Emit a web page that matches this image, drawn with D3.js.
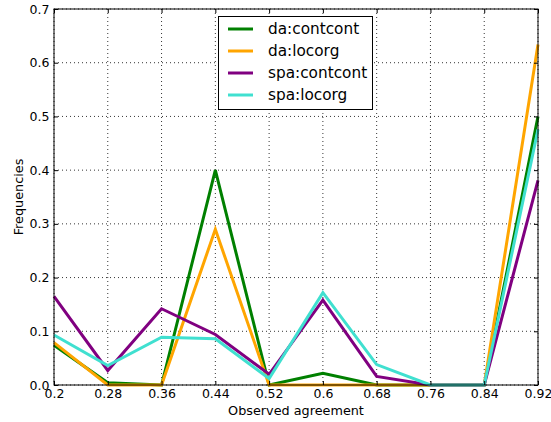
<!DOCTYPE html>
<html><head><meta charset="utf-8">
<script src="https://cdn.jsdelivr.net/npm/d3@7"></script>
<style>body{margin:0;background:#fff;}svg{display:block;font-family:"DejaVu Sans",sans-serif;}</style>
</head><body><svg id="c" width="551" height="422"></svg>
<script>
const xValues = [0.2, 0.28, 0.36, 0.44, 0.52, 0.6, 0.68, 0.76, 0.84, 0.92];
const xTickLabels = ["0.2","0.28","0.36","0.44","0.52","0.6","0.68","0.76","0.84","0.92"];
const yTicks = [0, 0.1, 0.2, 0.3, 0.4, 0.5, 0.6, 0.7];
const seriesNames = ["da:contcont", "da:locorg", "spa:contcont", "spa:locorg"];
const seriesColors = ["green", "orange", "purple", "turquoise"];
const daContcont = [0.074, 0.004, 0.0, 0.40, 0.0, 0.022, 0.0, 0.0, 0.0, 0.50];
const daLocorg = [0.079, 0.0, 0.0, 0.29, 0.0, 0.0, 0.0, 0.0, 0.0, 0.634];
const spaContcont = [0.165, 0.027, 0.142, 0.094, 0.02, 0.158, 0.016, 0.0, 0.0, 0.381];
const spaLocorg = [0.093, 0.036, 0.089, 0.086, 0.012, 0.172, 0.038, 0.0, 0.0, 0.476];
const seriesValues = [daContcont, daLocorg, spaContcont, spaLocorg];

const svg = d3.select("#c");
const L = 54, R = 538, T = 9, B = 385;
const x = d3.scaleLinear().domain([0.2, 0.92]).range([L, R]);
const y = d3.scaleLinear().domain([0, 0.7]).range([B, T]);

// grid
const g = svg.append("g");
g.selectAll(".gx").data(xValues).enter().append("line")
  .attr("x1", d => x(d)).attr("x2", d => x(d)).attr("y1", T).attr("y2", B)
  .attr("stroke", "#000").attr("stroke-width", 0.8).attr("stroke-dasharray", "1,3");
g.selectAll(".gy").data(yTicks).enter().append("line")
  .attr("y1", d => y(d)).attr("y2", d => y(d)).attr("x1", L).attr("x2", R)
  .attr("stroke", "#000").attr("stroke-width", 0.8).attr("stroke-dasharray", "1,3");

// lines
const line = d3.line().x((d, i) => x(xValues[i])).y(d => y(d));
seriesValues.forEach((vals, k) => {
  svg.append("path").datum(vals).attr("d", line)
    .attr("fill", "none").attr("stroke", seriesColors[k]).attr("stroke-width", 3)
    .attr("stroke-linejoin", "miter").attr("stroke-linecap", "butt");
});

// axes (ticks inward)
const fmtX = (d, i) => xTickLabels[i];
const axB = svg.append("g").attr("transform", `translate(0,${B})`)
  .call(d3.axisBottom(x).tickValues(xValues).tickFormat(fmtX).tickSizeInner(-4).tickSizeOuter(0).tickPadding(4.5));
const axT = svg.append("g").attr("transform", `translate(0,${T})`)
  .call(d3.axisTop(x).tickValues(xValues).tickFormat("").tickSizeInner(-4).tickSizeOuter(0));
const axL = svg.append("g").attr("transform", `translate(${L},0)`)
  .call(d3.axisLeft(y).tickValues(yTicks).tickFormat(d3.format(".1f")).tickSizeInner(-4).tickSizeOuter(0).tickPadding(4.5));
const axR = svg.append("g").attr("transform", `translate(${R},0)`)
  .call(d3.axisRight(y).tickValues(yTicks).tickFormat("").tickSizeInner(-4).tickSizeOuter(0));
[axB, axT, axL, axR].forEach(a => {
  a.select(".domain").remove();
  a.selectAll("line").attr("stroke", "#000");
  a.selectAll("text").attr("font-family", "DejaVu Sans").attr("font-size", 12.5).attr("fill", "#000");
});

svg.append("rect").attr("x", L).attr("y", T).attr("width", R - L).attr("height", B - T)
  .attr("fill", "none").attr("stroke", "#000").attr("stroke-width", 1);

// axis labels
svg.append("text").attr("x", (L + R) / 2).attr("y", 414.5).attr("text-anchor", "middle")
  .attr("font-size", 12.8).text("Observed agreement");
svg.append("text").attr("transform", `translate(23,${(T + B) / 2}) rotate(-90)`).attr("text-anchor", "middle")
  .attr("font-size", 12.8).text("Frequencies");

// legend
const lg = svg.append("g");
lg.append("rect").attr("x", 218.5).attr("y", 16.5).attr("width", 154).attr("height", 93)
  .attr("fill", "#fff").attr("stroke", "#000").attr("stroke-width", 1);
seriesNames.forEach((n, k) => {
  const yy = 29 + k * 22;
  lg.append("line").attr("x1", 228).attr("x2", 253).attr("y1", yy).attr("y2", yy)
    .attr("stroke", seriesColors[k]).attr("stroke-width", 3);
  lg.append("text").attr("x", 268).attr("y", yy).attr("dy", "0.35em")
    .attr("font-size", 15.3).text(n);
});
</script></body></html>
